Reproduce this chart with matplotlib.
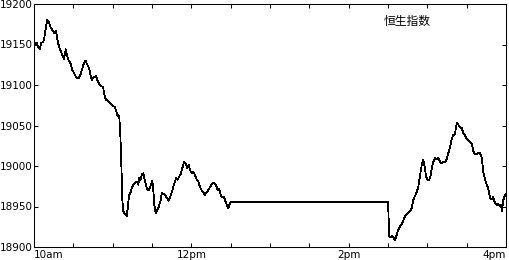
import matplotlib.pyplot as plt
import numpy as np

plt.rcParams['font.family'] = ['DejaVu Sans']

# minutes after 10:00, morning session
am_t = [0, 0.5, 1.5, 2.3, 3.1, 4.6, 5.3, 6.9, 7.6, 8.4, 10.1, 11.4, 13.0, 14.5, 15.3,
        16.8, 17.5, 18.3, 19.8, 20.6, 22.1, 22.9, 24.2, 25.2, 25.9, 26.7, 28.2, 29.0,
        30.5, 32.0, 33.8, 35.1, 36.6, 38.1, 39.4, 40.4, 41.9, 44.0, 45.0, 47.3, 48.1,
        49.6, 51.1, 52.6, 53.4, 54.2, 54.9, 57.2, 58.7, 60.3, 61.8, 63.8, 64.3, 65.1,
        65.6, 66.1, 66.9, 67.3, 68.1, 69.4, 70.7, 71.5, 72.5, 73.8, 74.5, 75.7, 77.0,
        78.3, 79.5, 80.3, 81.4, 82.4, 83.4, 84.4, 85.4, 86.4, 87.5, 88.5, 89.5, 90.2,
        91.0, 91.8, 92.8, 94.0, 95.3, 96.6, 97.6, 99.2, 100.4, 101.7, 102.7, 103.7,
        105.0, 106.2, 107.5, 108.3, 109.6, 110.8, 112.1, 113.4, 114.6, 115.9, 116.9,
        118.2, 119.0, 120.3, 121.5, 122.8, 124.1, 125.3, 126.6, 127.9, 129.1, 130.2,
        131.7, 132.9, 134.2, 135.5, 136.8, 138.1, 139.3, 140.1, 141.3, 142.4, 143.6,
        144.9, 145.9, 147.0, 148.2, 149.5, 150.8]
am_v = [19164, 19152, 19149, 19152, 19147, 19144, 19152, 19153, 19156, 19164, 19181,
        19177, 19170, 19167, 19164, 19167, 19159, 19152, 19144, 19141, 19135, 19132,
        19144, 19137, 19132, 19130, 19126, 19119, 19115, 19110, 19108, 19111, 19119,
        19127, 19130, 19126, 19121, 19106, 19109, 19111, 19107, 19102, 19098, 19098,
        19091, 19085, 19082, 19079, 19077, 19074, 19073, 19061, 19063, 19059, 19047,
        19028, 18987, 18960, 18944, 18941, 18938, 18948, 18964, 18968, 18972, 18977,
        18979, 18981, 18977, 18985, 18983, 18990, 18991, 18983, 18977, 18971, 18970,
        18974, 18978, 18982, 18970, 18952, 18942, 18946, 18950, 18958, 18967, 18965,
        18963, 18960, 18957, 18961, 18967, 18974, 18981, 18985, 18983, 18987, 18991,
        18999, 19005, 19003, 18997, 19001, 18995, 18991, 18993, 18989, 18983, 18981,
        18974, 18970, 18968, 18964, 18968, 18970, 18974, 18977, 18979, 18978, 18974,
        18970, 18972, 18964, 18961, 18962, 18957, 18952, 18948, 18954, 18956]

# afternoon session (from 14:30)
pm_t = [270, 271, 272, 273, 274, 275.3, 276.6, 277.8, 279.1, 280.4, 281.7, 283.0,
        284.2, 285.5, 286.8, 288.1, 289.3, 290.6, 291.9, 293.1, 293.9, 294.9, 295.9,
        296.9, 298.0, 299.0, 300.0, 301.3, 302.6, 303.6, 304.6, 305.8, 307.1, 308.4,
        309.7, 310.9, 312.2, 313.5, 314.8, 316.0, 317.3, 318.6, 319.8, 321.1, 322.4,
        323.6, 324.9, 326.2, 327.4, 328.7, 330.0, 331.2, 332.5, 333.8, 335.1, 336.4,
        337.6, 338.9, 340.2, 341.5, 342.7, 344.0, 345.3, 346.5, 347.8, 349.1, 350.3,
        351.6, 352.9, 354.1, 355.4, 356.2, 356.9, 357.9, 359.2, 360]
pm_v = [18956, 18913, 18912, 18914, 18912, 18908, 18915, 18921, 18925, 18928, 18933,
        18938, 18941, 18942, 18944, 18948, 18958, 18963, 18968, 18974, 18983, 18993,
        19003, 19008, 18999, 18987, 18983, 18982, 18989, 18999, 19005, 19010, 19008,
        19010, 19005, 19003, 19005, 19005, 19008, 19016, 19023, 19034, 19038, 19040,
        19053, 19051, 19048, 19047, 19041, 19038, 19034, 19032, 19030, 19028, 19018,
        19015, 19015, 19016, 19016, 19010, 18993, 18983, 18977, 18972, 18961, 18959,
        18962, 18954, 18952, 18953, 18950, 18952, 18944, 18958, 18964, 18966]

x_ticks = np.arange(0, 361, 30)
x_labels = {0: '10am', 120: '12pm', 240: '2pm', 360: '4pm'}
y_ticks = [18900, 18950, 19000, 19050, 19100, 19150, 19200]

t = am_t + pm_t
v = am_v + pm_v

fig = plt.figure(figsize=(5.09, 2.60), dpi=100)
ax = fig.add_axes([34 / 509, 13 / 260, 472 / 509, 243 / 260])

ax.plot(t, v, color='black', linewidth=0.55, antialiased=False)

ax.set_xlim(0, 360)
ax.set_ylim(18900, 19200)
ax.set_xticks(x_ticks)
ax.set_xticklabels([x_labels.get(int(k), '') for k in x_ticks])
ax.set_yticks(y_ticks)
ax.set_yticklabels([str(k) for k in y_ticks])

ax.tick_params(direction='in', length=3, width=0.75, top=True, right=True,
               labelsize=7.5, colors='black')
ax.tick_params(axis='y', pad=1)
ax.tick_params(axis='x', pad=2)

lbls = ax.get_xticklabels()
lbls[0].set_ha('left')
lbls[-1].set_ha('right')

for spine in ax.spines.values():
    spine.set_linewidth(0.75)
    spine.set_color('black')

ax.text(0.79, 0.93, '恒生指数', transform=ax.transAxes, fontsize=8.5,
        family=['Noto Sans CJK SC', 'DejaVu Sans'], ha='center', va='center')

fig.savefig('out.png', dpi=100)
